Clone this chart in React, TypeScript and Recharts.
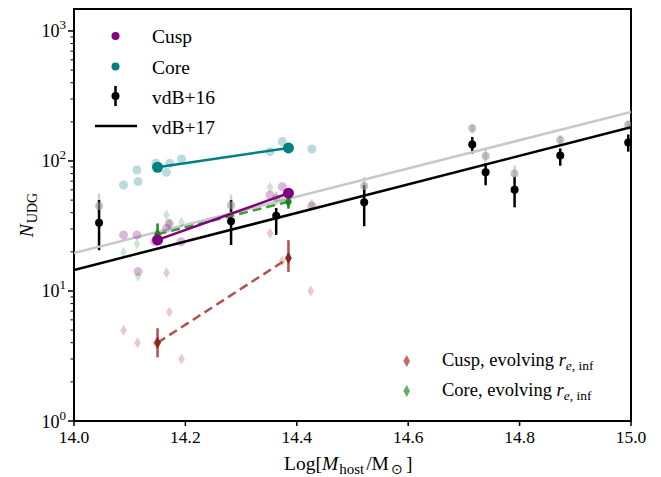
import React from 'react';
import { ComposedChart, Scatter, XAxis, YAxis, ErrorBar, ReferenceArea } from 'recharts';

// vdB+16 measurements (black) and their gray counterparts
const vdb16Mass = [14.045, 14.282, 14.363, 14.521, 14.715, 14.739, 14.791, 14.873, 14.995];
const vdb16N = [33.5, 34.4, 37.9, 48.1, 134, 81.9, 60.1, 110, 139];
const vdb16Lo = [20.6, 22.6, 27, 31.5, 114, 65, 44, 92, 118];
const vdb16Hi = [50, 50, 43.5, 65.3, 153, 96.3, 75.6, 125, 160];
const grayN = [45.1, 45.7, 52, 64.2, 178.5, 109, 80, 145, 190];
const grayLo = [35, 38, 46, 55, 163, 98, 70, 133, 175];
const grayHi = [56, 55, 58, 75, 192, 122, 92, 158, 205];

// fitted relations, endpoints at the axis edges
const fitMass = [14.0, 15.0];
const vdb17N = [14.5, 182];
const grayFitN = [19.6, 238];

// mean values of the models
const meanMass = [14.15, 14.385];
const cuspN = [24.7, 56.5];
const coreN = [89.5, 126];
const cuspEvoN = [4.0, 17.9];
const cuspEvoLo = [3.09, 14];
const cuspEvoHi = [5.17, 24.6];
const coreEvoN = [27.3, 48.6];
const coreEvoLo = [22.6, 43];
const coreEvoHi = [33.1, 54];

// individual hosts
const cuspPtsMass = [14.089, 14.113, 14.115, 14.145, 14.166, 14.171, 14.192, 14.352, 14.374, 14.427];
const cuspPtsN = [27, 27, 14.1, 24, 30.3, 33, 23.9, 54.8, 63.4, 45];
const corePtsMass = [14.089, 14.113, 14.115, 14.147, 14.166, 14.172, 14.193, 14.352, 14.374, 14.427];
const corePtsN = [65.4, 85.3, 69.4, 96, 81.8, 96, 103.6, 118, 141, 123.7];
const cuspEvoPtsMass = [14.089, 14.114, 14.147, 14.166, 14.171, 14.193, 14.352, 14.374, 14.425];
const cuspEvoPtsN = [5, 4, 4, 13.8, 6.9, 3, 27.8, 17, 10];
const coreEvoPtsMass = [14.089, 14.113, 14.115, 14.166, 14.171, 14.193, 14.352, 14.374, 14.427];
const coreEvoPtsN = [19.8, 23, 13, 38.4, 33, 33.8, 62.7, 50, 46.5];

const xTicks = [14.0, 14.2, 14.4, 14.6, 14.8, 15.0];
const yMajor = [1, 10, 100, 1000];
const yMinorMult = [2, 3, 4, 5, 6, 7, 8, 9];

const pts = (xs: number[], ys: number[], lo?: number[], hi?: number[]) =>
  xs.map((x, i) => ({
    x,
    y: ys[i],
    err: lo && hi ? [ys[i] - lo[i], hi[i] - ys[i]] : undefined,
  }));

const FONT = '"Liberation Serif", "Times New Roman", serif';
const PLOT_LEFT = 74;

const circle = (r: number, fill: string, op = 1) => (p: any) =>
  <circle cx={p.cx} cy={p.cy} r={r} fill={fill} fillOpacity={op} />;
const diamond = (w: number, h: number, fill: string, op = 1) => (p: any) =>
  <polygon
    points={`${p.cx},${p.cy - h} ${p.cx + w},${p.cy} ${p.cx},${p.cy + h} ${p.cx - w},${p.cy}`}
    fill={fill}
    fillOpacity={op}
  />;
const noShape = () => <g />;

const YTick = (p: any) => {
  const v = p.payload.value;
  const e = Math.round(Math.log10(v));
  const major = Math.abs(Math.log10(v) - e) < 1e-6;
  return (
    <g>
      <line x1={PLOT_LEFT} x2={PLOT_LEFT - (major ? 6 : 3.5)} y1={p.y} y2={p.y} stroke="#000" strokeWidth={major ? 1.5 : 1} />
      {major && (
        <text x={PLOT_LEFT - 8} y={p.y + 6.5} textAnchor="end" fontFamily={FONT} fontSize={18} fill="#000">
          10<tspan dy={-8} fontSize={13}>{e}</tspan>
        </text>
      )}
    </g>
  );
};

const Legend = () => (
  <svg width={661} height={477} style={{ position: 'absolute', left: 0, top: 0, pointerEvents: 'none' }} fontFamily={FONT}>
    <circle cx={115.5} cy={36} r={4} fill="#800080" />
    <text x={152} y={43} fontSize={19.5}>Cusp</text>
    <circle cx={115.5} cy={66.5} r={4} fill="#008080" />
    <text x={152} y={74} fontSize={19.5}>Core</text>
    <line x1={115.5} x2={115.5} y1={86} y2={106} stroke="#000" strokeWidth={2.5} />
    <circle cx={115.5} cy={96} r={4} fill="#000" />
    <text x={152} y={104} fontSize={19.5}>vdB+16</text>
    <line x1={95} x2={137} y1={126} y2={126} stroke="#000" strokeWidth={2.5} />
    <text x={152} y={134} fontSize={19.5}>vdB+17</text>

    <polygon points="406.7,355 410,361 406.7,367 403.4,361" fill="#a52a2a" fillOpacity={0.7} />
    <text x={442} y={366} fontSize={18.5}>
      Cusp, evolving <tspan fontStyle="italic">r</tspan>
      <tspan dy={4} fontSize={13.5} fontStyle="italic">e</tspan>
      <tspan fontSize={13.5}>, inf</tspan>
    </text>
    <polygon points="406.7,385 410,391 406.7,397 403.4,391" fill="#228b22" fillOpacity={0.7} />
    <text x={442} y={396} fontSize={18.5}>
      Core, evolving <tspan fontStyle="italic">r</tspan>
      <tspan dy={4} fontSize={13.5} fontStyle="italic">e</tspan>
      <tspan fontSize={13.5}>, inf</tspan>
    </text>

    <text x={284} y={470} fontSize={19.5}>
      Log[<tspan fontStyle="italic">M</tspan>
      <tspan dx={1} dy={4} fontSize={15}>host</tspan>
      <tspan dx={2} dy={-4}>/M</tspan>
      <tspan dx={2} dy={4} fontSize={14}>⊙</tspan>
      <tspan dx={3} dy={-4}>]</tspan>
    </text>
    <text x={33} y={215} textAnchor="middle" fontSize={19.5} transform="rotate(-90, 33, 215)">
      <tspan fontStyle="italic">N</tspan>
      <tspan dx={1} dy={4} fontSize={14}>UDG</tspan>
    </text>
  </svg>
);

export default function App() {
  const yTicks = [
    ...yMajor,
    ...yMajor.slice(0, 3).flatMap((d) => yMinorMult.map((m) => m * d)),
  ];

  return (
    <div style={{ position: 'absolute', left: 0, top: 0, width: 661, height: 477, background: '#fff' }}>
      <ComposedChart width={661} height={477} margin={{ top: 9, right: 30, bottom: 0, left: 0 }}>
        <XAxis
          type="number"
          dataKey="x"
          domain={[14, 15]}
          ticks={xTicks}
          allowDataOverflow
          tickFormatter={(v: number) => v.toFixed(1)}
          tick={{ fontFamily: FONT, fontSize: 17.5, fill: '#000' }}
          tickSize={5}
          tickMargin={5}
          tickLine={{ stroke: '#000', strokeWidth: 1.5 }}
          axisLine={false}
          height={56}
        />
        <YAxis
          type="number"
          dataKey="y"
          scale="log"
          domain={[1, 1476]}
          allowDataOverflow
          ticks={yTicks}
          interval={0}
          tick={<YTick />}
          tickLine={false}
          axisLine={false}
          width={PLOT_LEFT}
        />

        {/* gray relation and points */}
        <Scatter data={pts(fitMass, grayFitN)} shape={noShape} line={{ stroke: '#c8c8c8', strokeWidth: 2.5 }} isAnimationActive={false} />
        <Scatter data={pts(vdb16Mass, grayN, grayLo, grayHi)} shape={circle(4, '#999999', 0.6)} isAnimationActive={false}>
          <ErrorBar dataKey="err" direction="y" width={0} stroke="#d0d0d0" strokeWidth={2.5} />
        </Scatter>

        {/* individual hosts */}
        <Scatter data={pts(cuspPtsMass, cuspPtsN)} shape={circle(4.5, '#800080', 0.28)} isAnimationActive={false} />
        <Scatter data={pts(corePtsMass, corePtsN)} shape={circle(4.5, '#008080', 0.28)} isAnimationActive={false} />
        <Scatter data={pts(cuspEvoPtsMass, cuspEvoPtsN)} shape={diamond(3.3, 5.5, '#a52a2a', 0.25)} isAnimationActive={false} />
        <Scatter data={pts(coreEvoPtsMass, coreEvoPtsN)} shape={diamond(3.3, 5.5, '#228b22', 0.22)} isAnimationActive={false} />

        {/* vdB+17 relation */}
        <Scatter data={pts(fitMass, vdb17N)} shape={noShape} line={{ stroke: '#000', strokeWidth: 2.5 }} isAnimationActive={false} />

        {/* model means */}
        <Scatter data={pts(meanMass, cuspEvoN, cuspEvoLo, cuspEvoHi)} shape={diamond(3.5, 6, '#8b1a1a', 0.9)}
          line={{ stroke: '#b0504f', strokeWidth: 2.5, strokeDasharray: '9 5' }} isAnimationActive={false}>
          <ErrorBar dataKey="err" direction="y" width={0} stroke="#b0504f" strokeWidth={2.5} />
        </Scatter>
        <Scatter data={pts(meanMass, coreEvoN, coreEvoLo, coreEvoHi)} shape={diamond(3.5, 6, '#1f7a1f', 0.95)}
          line={{ stroke: '#3a9a3a', strokeWidth: 2.5, strokeDasharray: '9 5' }} isAnimationActive={false}>
          <ErrorBar dataKey="err" direction="y" width={0} stroke="#228b22" strokeWidth={2.5} />
        </Scatter>
        <Scatter data={pts(meanMass, cuspN)} shape={circle(5.5, '#800080')} line={{ stroke: '#800080', strokeWidth: 2.5 }} isAnimationActive={false} />
        <Scatter data={pts(meanMass, coreN)} shape={circle(5.5, '#008080')} line={{ stroke: '#008080', strokeWidth: 2.5 }} isAnimationActive={false} />

        {/* vdB+16 */}
        <Scatter data={pts(vdb16Mass, vdb16N, vdb16Lo, vdb16Hi)} shape={circle(4, '#000')} isAnimationActive={false}>
          <ErrorBar dataKey="err" direction="y" width={0} stroke="#000" strokeWidth={2.5} />
        </Scatter>

        <ReferenceArea x1={14} x2={15} y1={1} y2={1476} fill="none" stroke="#000" strokeWidth={2} ifOverflow="visible" />
      </ComposedChart>
      <Legend />
    </div>
  );
}
